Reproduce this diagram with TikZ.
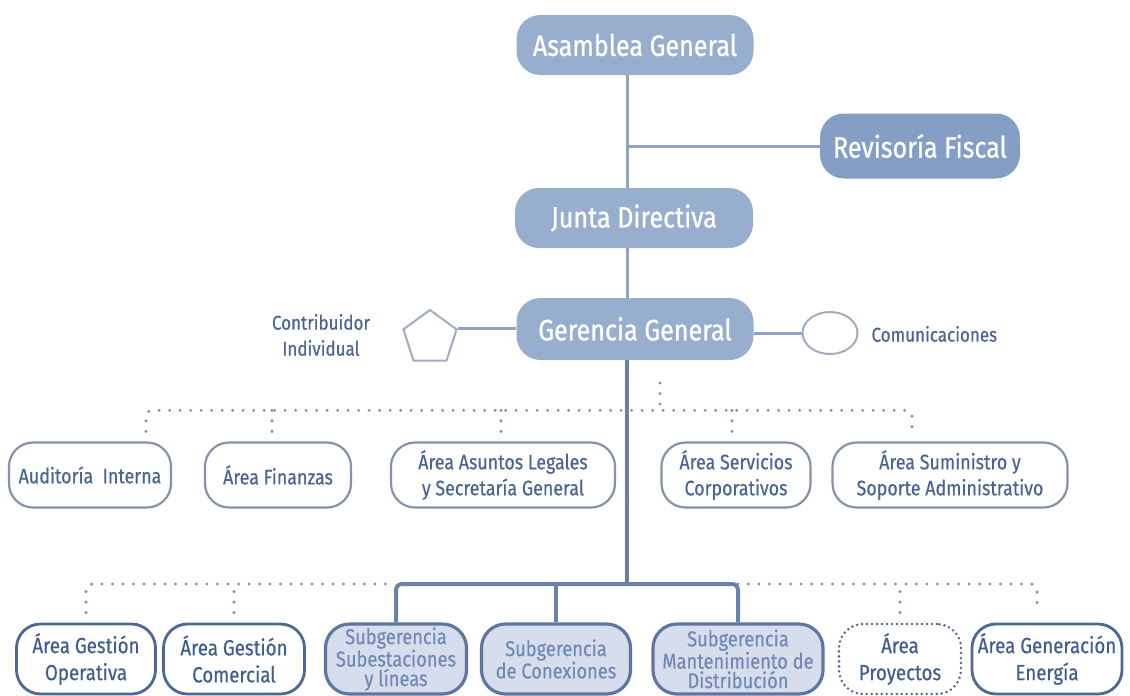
\documentclass[tikz,border=0pt]{standalone}
\usepackage{fontspec}
\setmainfont[FakeStretch=0.85]{Fira Sans}
\usetikzlibrary{shapes.geometric,calc}
\definecolor{topfill}{HTML}{98AECF}
\definecolor{revfill}{HTML}{849EC5}
\definecolor{toplink}{HTML}{8FA4C4}
\definecolor{trunk}{HTML}{6A82AB}
\definecolor{arealine}{HTML}{8592AA}
\definecolor{areatext}{HTML}{4A6493}
\definecolor{lowline}{HTML}{4E6895}
\definecolor{lowtext}{HTML}{3F5D8F}
\definecolor{subfill}{HTML}{D6DEED}
\definecolor{subline}{HTML}{5F76A0}
\definecolor{subtext}{HTML}{7088B5}
\definecolor{dots}{HTML}{8794AE}
\definecolor{shapeline}{HTML}{A3ACBC}
\begin{document}
\begin{tikzpicture}[x=1pt,y=-1pt,
        topbox/.style={fill=topfill,text=white,rounded corners=24pt,inner sep=0pt,minimum height=60pt,font=\fontsize{29.5}{32}\selectfont\addfontfeatures{FakeBold=0.8}},
        areabox/.style={draw=arealine,line width=2.2pt,fill=white,text=areatext,rounded corners=24pt,inner sep=0pt,minimum height=65pt,align=center,font=\fontsize{21}{26}\selectfont\addfontfeatures{FakeBold=0.4}},
        lowbox/.style={areabox,draw=lowline,line width=2.8pt,text=lowtext,minimum height=70pt,font=\fontsize{22}{27}\selectfont\addfontfeatures{FakeBold=0.4}},
        subbox/.style={lowbox,draw=subline,line width=3.2pt,fill=subfill,text=subtext,font=\fontsize{21.5}{19.5}\selectfont\addfontfeatures{FakeBold=0.3}},
        sidetext/.style={text=areatext,align=center,font=\fontsize{20}{26}\selectfont\addfontfeatures{FakeBold=0.4}},
        solidlink/.style={draw=toplink,line width=3pt},
        trunklink/.style={draw=trunk,line width=4pt,rounded corners=6pt},
        dotlink/.style={draw=dots,line width=3.4pt,line cap=round,dash pattern=on 0pt off 10.5pt,rounded corners=6pt}]
        \useasboundingbox (0,0) rectangle (1130,696);
        \coordinate (axis) at (627,0);
        \coordinate (upbar) at (0,412);
        \coordinate (lowbar) at (0,584);
        \coordinate (staff) at (660,383);
        \node[topbox,minimum width=237pt] (asamblea) at (635,45) {Asamblea General};
        \node[topbox,fill=revfill,minimum width=200pt,minimum height=65pt] (revisoria) at (920,146) {Revisoría Fiscal};
        \node[topbox,minimum width=238pt] (junta) at (634,218) {Junta Directiva};
        \node[topbox,minimum width=237pt,minimum height=62pt] (gerencia) at (635,329) {Gerencia General};
        \node[regular polygon,regular polygon sides=5,draw=shapeline,line width=2pt,minimum size=56pt,inner sep=0pt] (contrib) at (430,338) {};
        \node[sidetext] (contribtxt) at (321,335) {Contribuidor\\Individual};
        \node[ellipse,draw=shapeline,line width=2pt,minimum width=55pt,minimum height=42pt,inner sep=0pt] (comun) at (830,333) {};
        \node[sidetext,anchor=west] (comuntxt) at (868,334) {Comunicaciones};
        \node[areabox,minimum width=162pt] (auditoria) at (90,475) {Auditoría\ \ Interna};
        \node[areabox,minimum width=146pt] (finanzas) at (278,475) {Área Finanzas};
        \node[areabox,minimum width=224pt] (legales) at (503,475) {Área Asuntos Legales\\y Secretaría General};
        \node[areabox,minimum width=149pt] (servicios) at (736,475) {Área Servicios\\Corporativos};
        \node[areabox,minimum width=235pt] (suministro) at (950,475) {Área Suministro y\\Soporte Administrativo};
        \node[lowbox,minimum width=139pt] (operativa) at (86,659) {Área Gestión\\Operativa};
        \node[lowbox,minimum width=141pt] (comercial) at (234,659) {Área Gestión\\Comercial};
        \node[subbox,minimum width=141pt] (subestaciones) at (396,659) {Subgerencia\\Subestaciones\\y líneas};
        \node[subbox,minimum width=149pt] (conexiones) at (556,659) {Subgerencia\\de Conexiones};
        \node[subbox,minimum width=170pt] (mantenimiento) at (738,659) {Subgerencia\\Mantenimiento de\\Distribución};
        \node[lowbox,dash pattern=on 0pt off 5pt,line cap=round,minimum width=122pt] (proyectos) at (900,659) {Área\\Proyectos};
        \node[lowbox,minimum width=150pt] (generacion) at (1047,659) {Área Generación\\Energía};
        \draw[solidlink] (asamblea.south -| axis) -- (junta.north -| axis);
        \draw[solidlink] (revisoria.west -| axis) -- (revisoria.west);
        \draw[solidlink] (junta.south -| axis) -- (gerencia.north -| axis);
        \draw[solidlink] (contrib.corner 5) -- (contrib.corner 5 -| gerencia.west);
        \draw[solidlink] (gerencia.east |- comun.west) -- (comun.west);
        \draw[dotlink] (staff) -- (staff |- upbar);
        \draw[dotlink] ($(auditoria.north)+(56,-10)$) |- ($(suministro.north)+(-38,-31)$) -- ($(suministro.north)+(-38,-10)$);
        \draw[dotlink] ($(finanzas.north)+(-6,-10)$) -- ($(finanzas.north)+(-6,-31)$);
        \draw[dotlink] ($(legales.north)+(-2,-10)$) -- ($(legales.north)+(-2,-31)$);
        \draw[dotlink] ($(servicios.north)+(-4,-10)$) -- ($(servicios.north)+(-4,-31)$);
        \draw[dotlink] ($(operativa.north)+(0,-10)$) |- (subestaciones.north |- lowbar);
        \draw[dotlink] ($(comercial.north)+(0,-10)$) -- (comercial.north |- lowbar);
        \draw[dotlink] (mantenimiento.north |- lowbar) -| ($(generacion.north)+(-10,-10)$);
        \draw[dotlink] ($(proyectos.north)+(0,-10)$) -- (proyectos.north |- lowbar);
        \draw[trunklink] (gerencia.south -| axis) -- (lowbar -| axis);
        \draw[trunklink] (subestaciones.north) -- (subestaciones.north |- lowbar) -- (mantenimiento.north |- lowbar) -- (mantenimiento.north);
        \draw[trunklink] (conexiones.north |- lowbar) -- (conexiones.north);
\end{tikzpicture}
\end{document}
